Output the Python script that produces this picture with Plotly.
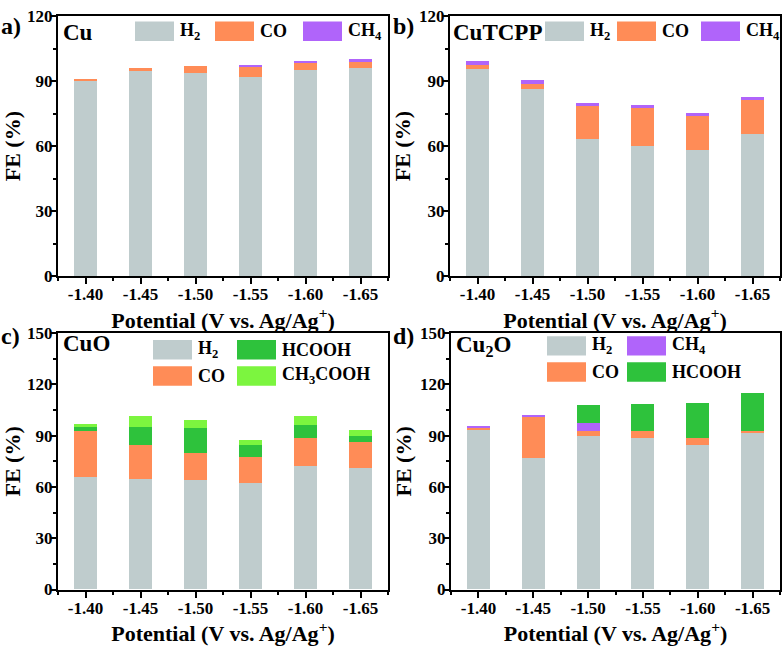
import plotly.graph_objects as go
from plotly.subplots import make_subplots

# Potentials (V vs. Ag/Ag+)
potentials = [-1.40, -1.45, -1.50, -1.55, -1.60, -1.65]
tick_labels = ["-1.40", "-1.45", "-1.50", "-1.55", "-1.60", "-1.65"]

# Faradaic efficiencies (%)
cu_h2 = [90.0, 94.5, 93.5, 92.0, 95.0, 96.2]
cu_co = [1.0, 1.5, 3.5, 4.5, 3.7, 3.0]
cu_ch4 = [0.0, 0.0, 0.0, 0.8, 0.7, 0.8]

cutcpp_h2 = [95.3, 86.3, 63.1, 59.7, 57.9, 65.4]
cutcpp_co = [2.0, 2.5, 15.1, 17.9, 15.7, 16.0]
cutcpp_ch4 = [1.8, 1.7, 1.8, 1.5, 1.5, 1.3]

cuo_h2 = [66.0, 64.5, 63.7, 62.2, 72.3, 70.7]
cuo_co = [26.7, 20.0, 15.9, 15.0, 16.0, 15.4]
cuo_hcooh = [2.4, 10.5, 14.6, 7.3, 7.6, 3.6]
cuo_ch3cooh = [1.7, 6.2, 4.9, 2.9, 5.3, 3.7]

cu2o_h2 = [93.0, 76.8, 89.7, 88.8, 84.6, 91.6]
cu2o_co = [1.8, 24.3, 3.0, 3.7, 3.8, 1.3]
cu2o_ch4 = [1.0, 0.7, 4.6, 0.0, 0.0, 0.0]
cu2o_hcooh = [0.0, 0.0, 10.4, 16.0, 20.8, 22.0]

COLORS = {
    "H2": "#BFCCCD",
    "CO": "#FF8C57",
    "CH4": "#B064FA",
    "HCOOH": "#2EC23C",
    "CH3COOH": "#7CF53F",
}
LABELS = {
    "H2": "H<sub>2</sub>",
    "CO": "CO",
    "CH4": "CH<sub>4</sub>",
    "HCOOH": "HCOOH",
    "CH3COOH": "CH<sub>3</sub>COOH",
}
FONT = "Liberation Serif"
W, H = 784, 650


def px(x):
    return x / W


def py(y):
    return 1 - y / H


panels = [
    dict(row=1, col=1, name="Cu", tag="a)",
         series=[("H2", cu_h2), ("CO", cu_co), ("CH4", cu_ch4)]),
    dict(row=1, col=2, name="CuTCPP", tag="b)",
         series=[("H2", cutcpp_h2), ("CO", cutcpp_co), ("CH4", cutcpp_ch4)]),
    dict(row=2, col=1, name="CuO", tag="c)",
         series=[("H2", cuo_h2), ("CO", cuo_co), ("HCOOH", cuo_hcooh), ("CH3COOH", cuo_ch3cooh)]),
    dict(row=2, col=2, name="Cu<sub>2</sub>O", tag="d)",
         series=[("H2", cu2o_h2), ("CO", cu2o_co), ("CH4", cu2o_ch4), ("HCOOH", cu2o_hcooh)]),
]

fig = make_subplots(rows=2, cols=2)

for p in panels:
    for key, vals in p["series"]:
        fig.add_trace(go.Bar(
            x=potentials, y=vals, name=key, width=0.021,
            marker=dict(color=COLORS[key], line=dict(width=0)),
            showlegend=False,
        ), row=p["row"], col=p["col"])

# plot-area boxes in pixels: (left, right, top, bottom)
boxes = {
    (1, 1): (58, 388, 7.5, 275),
    (1, 2): (450, 780, 7.5, 275),
    (2, 1): (58, 388, 334, 598),
    (2, 2): (451, 780, 334, 598),
}
tick_font = dict(family=FONT, size=17, color="black", weight="bold")
title_font = dict(family=FONT, size=22, color="black", weight="bold")

for (r, c), (l, rt, t, b) in boxes.items():
    ymax = 120 if r == 1 else 150
    fig.update_xaxes(
        domain=[px(l), px(rt)], range=[-1.375, -1.675],
        tickmode="array", tickvals=potentials, ticktext=tick_labels,
        ticks="outside", ticklen=6, tickwidth=2, tickcolor="black",
        ticklabelstandoff=-4,
        minor=dict(ticks="outside", ticklen=3, tickwidth=2, tickcolor="black",
                   tickmode="linear", tick0=-1.375, dtick=0.05),
        showline=True, linewidth=2, linecolor="black", mirror=True,
        showgrid=False, zeroline=False, tickfont=tick_font,
        title=dict(text="Potential (V vs. Ag/Ag<sup>+</sup>)", font=title_font, standoff=0),
        row=r, col=c,
    )
    fig.update_yaxes(
        domain=[py(b), py(t)], range=[0, ymax],
        tickmode="linear", tick0=0, dtick=30,
        ticks="outside", ticklen=5, tickwidth=2, tickcolor="black",
        ticklabelstandoff=-5,
        minor=dict(ticks="outside", ticklen=3, tickwidth=2, tickcolor="black", dtick=15),
        showline=True, linewidth=2, linecolor="black", mirror=True,
        showgrid=False, zeroline=False, tickfont=tick_font,
        title=dict(text="FE (%)", font=title_font, standoff=2),
        row=r, col=c,
    )

shapes = []
annotations = []

# sample names and panel tags
name_pos = [(62, 24), (452, 24), (62, 345), (455, 347)]
tag_pos = [(0, 17), (392, 17), (0, 337), (392, 337)]
for p, (nx, ny), (tx, ty) in zip(panels, name_pos, tag_pos):
    annotations.append(dict(x=px(nx), y=py(ny), xref="paper", yref="paper",
                            text=p["name"], showarrow=False, xanchor="left", yanchor="middle",
                            borderpad=0,
                            font=dict(family=FONT, size=23, color="black", weight="bold")))
    annotations.append(dict(x=px(tx), y=py(ty), xref="paper", yref="paper",
                            text=p["tag"], showarrow=False, xanchor="left", yanchor="middle",
                            borderpad=0,
                            font=dict(family=FONT, size=24, color="black", weight="bold")))

# hand-placed legends: (key, swatch left, swatch top)
legends = [
    [("H2", 135, 13), ("CO", 215, 13), ("CH4", 303, 13)],
    [("H2", 545, 13), ("CO", 617, 13), ("CH4", 701, 13)],
    [("H2", 153, 341), ("HCOOH", 237, 341), ("CO", 153, 368), ("CH3COOH", 237, 368)],
    [("H2", 547, 337), ("CH4", 627, 337), ("CO", 547, 364), ("HCOOH", 627, 364)],
]
for entries in legends:
    for key, sx, sy in entries:
        shapes.append(dict(type="rect", xref="paper", yref="paper",
                           x0=px(sx), x1=px(sx + 39), y0=py(sy + 20), y1=py(sy),
                           fillcolor=COLORS[key], line=dict(width=0)))
        annotations.append(dict(x=px(sx + 44), y=py(sy + 10), xref="paper", yref="paper",
                                text=LABELS[key], showarrow=False,
                                xanchor="left", yanchor="middle", borderpad=0,
                                font=dict(family=FONT, size=18, color="black", weight="bold")))

fig.update_layout(
    width=W, height=H,
    margin=dict(l=0, r=0, t=0, b=0),
    paper_bgcolor="white", plot_bgcolor="white",
    barmode="stack", bargap=0,
    showlegend=False,
    shapes=shapes, annotations=annotations,
)

# drop the page's default body margin so the figure fills the window
fig.write_html("out.html", config={"displayModeBar": False},
               post_script="document.body.style.margin='0';")
